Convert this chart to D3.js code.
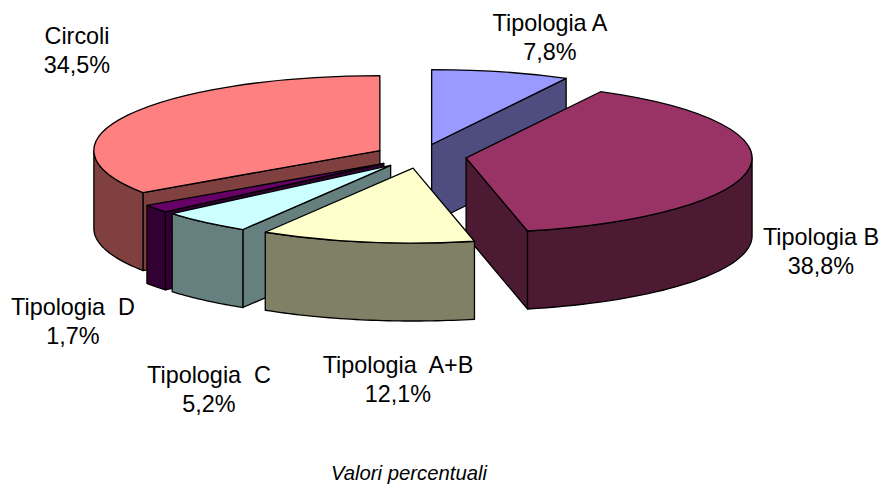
<!DOCTYPE html>
<html>
<head>
<meta charset="utf-8">
<script src="https://cdn.jsdelivr.net/npm/d3@7"></script>
<style>
html,body{margin:0;padding:0;background:#fff;}
svg{display:block;}
text{font-family:"Liberation Sans",Arial,sans-serif;fill:#000;white-space:pre;}
</style>
</head>
<body>
<svg id="chart" width="883" height="485"></svg>
<script>
// Data, clockwise from twelve o'clock
const categories = ["Tipologia A","Tipologia B","Tipologia  A+B","Tipologia  C","Tipologia  D","Circoli"];
const values = [7.8,38.8,12.1,5.2,1.7,34.5];
const valueLabels = ["7,8%","38,8%","12,1%","5,2%","1,7%","34,5%"];
const topColors = ["#9999FF","#993366","#FFFFCC","#CCFFFF","#660066","#FF8080"];
const sideColors = ["#4D4D80","#4D1A33","#808066","#668080","#330033","#804040"];
const caption = "Valori percentuali";

// Layout
const cx = 420.5, cy = 156.2, rx = 286, tilt = 0.262, explode = 46, depth = 78;
const labelPos = [[550,31],[821,245],[398,373],[209,383],[73,315],[77,44]];
const drawOrder = [0,5,4,3,1,2];

const svg = d3.select("#chart");
const pie = d3.pie().sort(null).startAngle(0).endAngle(2*Math.PI)(values);
const arc = d3.arc().innerRadius(0).outerRadius(rx);
const line = d3.line();

const slices = pie.map((p,i) => {
  const mid = (p.startAngle + p.endAngle) / 2;
  return {
    ...p, i,
    ax: cx + explode * Math.sin(mid),
    ay: cy - explode * Math.cos(mid) * tilt
  };
});

const rim = (s,a) => [s.ax + rx*Math.sin(a), s.ay - rx*tilt*Math.cos(a)];
const down = (pt) => [pt[0], pt[1] + depth];

function face(g, pts, fill){
  g.append("path").attr("d", line(pts) + "Z")
    .attr("fill", fill).attr("stroke","#000").attr("stroke-width",1.3)
    .attr("stroke-linejoin","round");
}

const groups = svg.selectAll("g.slice")
  .data(drawOrder.map(k => slices[k]))
  .join("g").attr("class","slice");

groups.each(function(s){
  const g = d3.select(this);
  const apex = [s.ax, s.ay];
  const side = sideColors[s.i];

  // flat side facing the viewer
  if (Math.sin(s.startAngle) < -1e-6 || s.startAngle === 0) {
    const e = rim(s, s.startAngle);
    face(g, [apex, e, down(e), down(apex)], side);
  }
  if (Math.sin(s.endAngle) > 1e-6) {
    const e = rim(s, s.endAngle);
    face(g, [apex, e, down(e), down(apex)], side);
  }

  // curved outer wall: only the front half of the ellipse
  const a0 = Math.max(s.startAngle, Math.PI/2);
  const a1 = Math.min(s.endAngle, 3*Math.PI/2);
  if (a1 > a0) {
    const n = 40;
    const top = d3.range(n+1).map(k => rim(s, a0 + (a1-a0)*k/n));
    face(g, top.concat(top.slice().reverse().map(down)), side);
  }

  // top surface
  g.append("path")
    .attr("d", arc(s))
    .attr("transform", `translate(${s.ax},${s.ay}) scale(1,${tilt})`)
    .attr("fill", topColors[s.i])
    .attr("stroke","#000").attr("stroke-width",1.3)
    .attr("stroke-linejoin","round")
    .attr("vector-effect","non-scaling-stroke");
});

// Labels
const labels = svg.selectAll("text.label").data(categories).join("text")
  .attr("class","label")
  .attr("text-anchor","middle")
  .attr("font-size",23.4)
  .attr("transform",(d,i)=>`translate(${labelPos[i][0]},${labelPos[i][1]})`);
labels.append("tspan").attr("x",0).attr("y",0).text(d=>d);
labels.append("tspan").attr("x",0).attr("y",29).text((d,i)=>valueLabels[i]);

svg.append("text").attr("x",409).attr("y",480)
  .attr("text-anchor","middle").attr("font-size",20.3)
  .attr("font-style","italic").text(caption);
</script>
</body>
</html>
